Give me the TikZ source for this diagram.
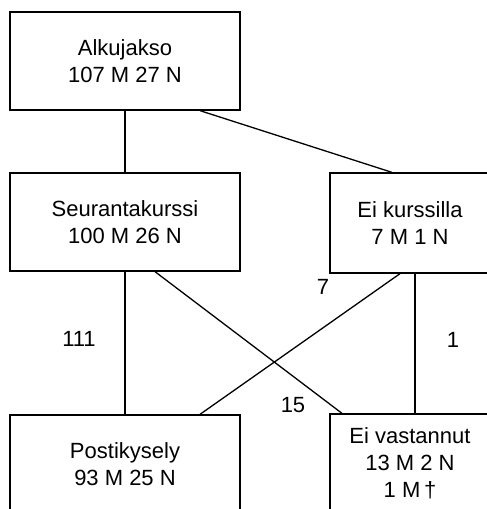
\documentclass[tikz,border=0pt]{standalone}
\usepackage{fontspec}
\setmainfont{Liberation Sans}
\begin{document}
\begin{tikzpicture}[x=1pt,y=-1pt,
  every node/.style={font=\fontsize{22}{27}\selectfont, text=black},
  stagebox/.style={draw, line width=1.3pt, rectangle, align=center, inner sep=0pt},
  link/.style={line width=1.3pt},
  count/.style={inner sep=0pt}]
  \useasboundingbox (0,0) rectangle (487,509);
  \clip (0,0) rectangle (487,509);
  % stages
  \node[stagebox, minimum width=230pt, minimum height=98pt] (b1) at (125,61) {Alkujakso\\107 M 27 N};
  \node[stagebox, minimum width=230pt, minimum height=98pt] (b2) at (125,222) {Seurantakurssi\\100 M 26 N};
  \node[stagebox, minimum width=160pt, minimum height=100pt] (b3) at (410,223) {Ei kurssilla\\7 M 1 N};
  \node[stagebox, minimum width=230pt, minimum height=98pt] (b4) at (125,464) {Postikysely\\93 M 25 N};
  \node[stagebox, minimum width=160pt, minimum height=98pt] (b5) at (410,463) {Ei vastannut\\13 M 2 N\\1 M\,†};
  % connectors
  \draw[link] (b1.south) -- (b2.north);
  \draw[link] ([xshift=75pt]b1.south) -- ([xshift=-18pt]b3.north);
  \draw[link] (b2.south) -- (b4.north);
  \draw[link] ([xshift=30pt]b2.south) -- ([xshift=-68pt]b5.north);
  \draw[link] ([xshift=75pt]b4.north) -- ([xshift=-10pt]b3.south);
  \draw[link] ([xshift=5pt]b3.south) -- ([xshift=5pt]b5.north);
  % counts
  \node[count] (n111) at (79,339) {111};
  \node[count] (n7) at (323,287) {7};
  \node[count] (n15) at (293,405) {15};
  \node[count] (n1) at (453,340) {1};
\end{tikzpicture}
\end{document}
